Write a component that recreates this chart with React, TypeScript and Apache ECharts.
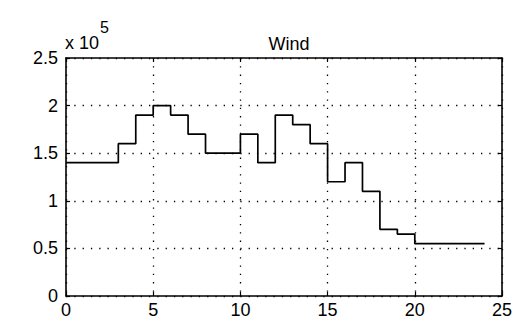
import React, { useEffect, useRef } from "react";
import * as echarts from "echarts";

const hours = [0, 1, 2, 3, 4, 5, 6, 7, 8, 9, 10, 11, 12, 13, 14, 15, 16, 17, 18, 19, 20, 21, 22, 23, 24];
const windPower = [
  140000, 140000, 140000, 160000, 190000, 200000, 190000, 170000, 150000, 150000,
  170000, 140000, 190000, 180000, 160000, 120000, 140000, 110000, 70000, 65000,
  55000, 55000, 55000, 55000, 55000,
];
const xTicks = { min: 0, max: 25, interval: 5 };
const yTicks = { min: 0, max: 250000, interval: 50000 };
const yScaleExponent = 5;
const title = "Wind";

const FONT = "Liberation Sans, Arial, sans-serif";

export default function App() {
  const ref = useRef<HTMLDivElement>(null);
  useEffect(() => {
    if (!ref.current) return;
    const chart = echarts.init(ref.current, null, { renderer: "svg" });
    const data = hours.map((h, i) => [h, windPower[i]]);
    const scale = Math.pow(10, yScaleExponent);
    const gridDash = { type: [1.3, 7] as any, color: "#000", width: 1.3 };
    const boxLine = { show: true, lineStyle: { color: "#000", width: 1.6 } };
    const tick = { show: true, inside: true, length: 4, lineStyle: { color: "#000", width: 1.2 } };
    chart.setOption({
      animation: false,
      backgroundColor: "#fff",
      title: {
        text: title,
        left: 284,
        textAlign: "center",
        top: 30,
        textStyle: { fontFamily: FONT, fontSize: 18, fontWeight: "normal", color: "#000" },
      },
      grid: { left: 66, right: 11, top: 58, bottom: 26 },
      xAxis: [
        {
          type: "value",
          position: "bottom",
          min: xTicks.min,
          max: xTicks.max,
          interval: xTicks.interval,
          axisLine: { ...boxLine, onZero: false },
          axisTick: tick,
          axisLabel: { fontFamily: FONT, fontSize: 18, color: "#000", margin: 5 },
          splitLine: { show: true, lineStyle: gridDash },
        },
        {
          type: "value",
          position: "top",
          min: xTicks.min,
          max: xTicks.max,
          interval: xTicks.interval,
          axisLine: { ...boxLine, onZero: false },
          axisTick: tick,
          axisLabel: { show: false },
          splitLine: { show: false },
        },
      ],
      yAxis: [
        {
          type: "value",
          position: "left",
          min: yTicks.min,
          max: yTicks.max,
          interval: yTicks.interval,
          axisLine: { ...boxLine, onZero: false },
          axisTick: tick,
          axisLabel: {
            fontFamily: FONT,
            fontSize: 18,
            color: "#000",
            margin: 8,
            formatter: (v: number) => String(v / scale),
          },
          splitLine: { show: true, lineStyle: gridDash },
        },
        {
          type: "value",
          position: "right",
          min: yTicks.min,
          max: yTicks.max,
          interval: yTicks.interval,
          axisLine: { ...boxLine, onZero: false },
          axisTick: tick,
          axisLabel: { show: false },
          splitLine: { show: false },
        },
      ],
      graphic: [
        {
          type: "text",
          left: 65,
          top: 34,
          style: { text: "x 10", font: `18px ${FONT}`, fill: "#000" },
        },
        {
          type: "text",
          left: 100,
          top: 19,
          style: { text: String(yScaleExponent), font: `16px ${FONT}`, fill: "#000" },
        },
      ],
      series: [
        {
          type: "line",
          step: "end",
          data,
          xAxisIndex: 0,
          yAxisIndex: 0,
          showSymbol: false,
          symbol: "none",
          lineStyle: { color: "#000", width: 1.7 },
        },
      ],
    });
    return () => chart.dispose();
  }, []);
  return (
    <div
      ref={ref}
      style={{ position: "absolute", left: 0, top: 0, width: 515, height: 322 }}
    />
  );
}
